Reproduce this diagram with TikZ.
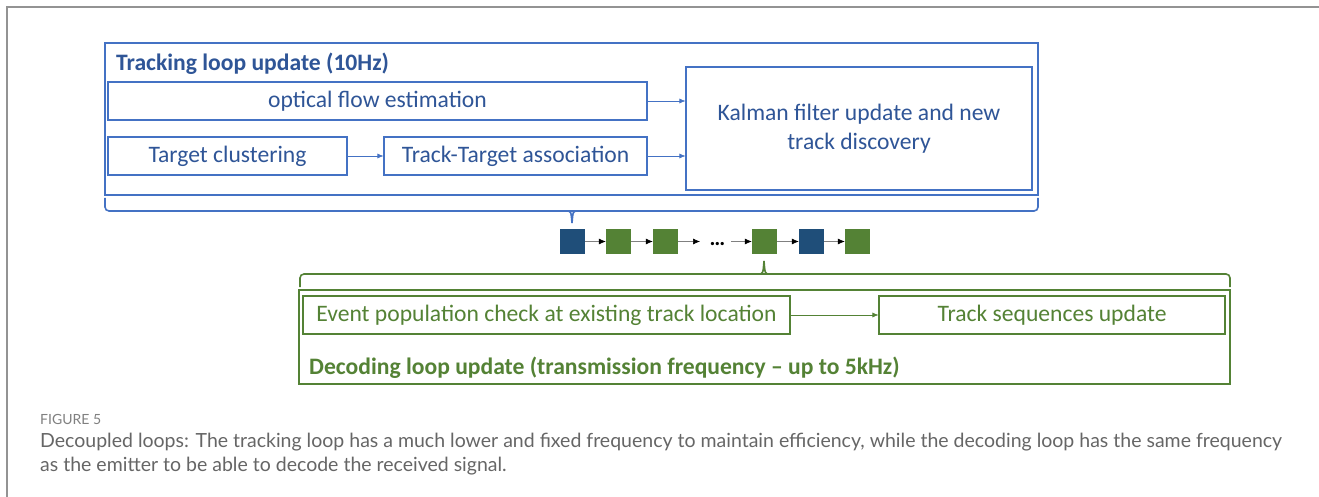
\documentclass[tikz,border=0pt]{standalone}
\usepackage{fontspec}
\setmainfont{Carlito}
\newfontfamily\capfont{Lato}
\usetikzlibrary{arrows.meta,calc}
\definecolor{bline}{HTML}{4472C4}
\definecolor{btext}{HTML}{2F5597}
\definecolor{gline}{HTML}{548235}
\definecolor{gtext}{HTML}{548235}
\definecolor{sqblue}{HTML}{1F4E79}
\definecolor{sqgreen}{HTML}{548235}
\definecolor{capgray}{HTML}{666666}
\begin{document}
\begin{tikzpicture}[x=1pt,y=-1pt,
  bbox/.style={draw=bline,line width=1.1pt,inner sep=0pt,text=btext,font=\fontsize{23.6}{29}\selectfont,align=center},
  gbox/.style={draw=gline,line width=1.1pt,inner sep=0pt,text=gtext,font=\fontsize{23.6}{29}\selectfont,align=center},
  barrow/.style={draw=bline,line width=0.6pt,-{Latex[length=6pt,width=5pt]}},
  garrow/.style={draw=gline,line width=0.6pt,-{Latex[length=6pt,width=5pt]}},
  sq/.style={minimum width=25pt,minimum height=25pt,inner sep=0pt},
  karrow/.style={draw=gray,line width=0.6pt,arrows={-{Latex[length=7pt,width=6pt,color=black]}}},
  title/.style={anchor=west,inner sep=0pt,font=\bfseries\fontsize{23.6}{28}\selectfont}
]
\useasboundingbox (0,0) rectangle (1319,497);
\fill[white] (0,0) rectangle (1319,497);
% frame
\draw[gray!85,line width=1.5pt] (7,497) -- (7,7) -- (1319,7);

% tracking loop
\node[bbox,minimum width=933pt,minimum height=152pt] (outerb) at (571.5,119) {};
\node[title,text=btext] (ttitle) at (116,64) {Tracking loop update (10Hz)};
\node[bbox,minimum width=539pt,minimum height=38pt] (optical) at (377.5,101) {optical flow estimation};
\node[bbox,minimum width=239pt,minimum height=38pt] (cluster) at (227.5,156) {Target clustering};
\node[bbox,minimum width=263pt,minimum height=38pt] (assoc) at (515.5,156) {Track-Target association};
\node[bbox,minimum width=346pt,minimum height=123pt] (kalman) at (859,128.5) {Kalman filter update and new\\track discovery};
\draw[barrow] (optical.east) -- (optical.east -| kalman.west);
\draw[barrow] (assoc.east) -- (assoc.east -| kalman.west);
\draw[barrow] (cluster.east) -- (assoc.west);

% blue brace
\coordinate (bl) at (105,198);
\coordinate (br) at (1038,198);
\coordinate (btip) at (572,223);
\draw[bline,line width=1.6pt,rounded corners=4pt] (bl) -- (105,211) -- (1038,211) -- (br);
\draw[bline,line width=1.6pt] (566,211) .. controls (571,211) .. (btip);
\draw[bline,line width=1.6pt] (578,211) .. controls (573,211) .. (btip);

% sequence
\node[sq,fill=sqblue] (s1) at (572.5,241.5) {};
\node[sq,fill=sqgreen] (s2) at (618.5,241.5) {};
\node[sq,fill=sqgreen] (s3) at (665.5,241.5) {};
\node[inner sep=0pt,font=\bfseries\fontsize{22}{22}\selectfont] (dots) at (717.5,244) {…};
\node[sq,fill=sqgreen] (s4) at (764.5,241.5) {};
\node[sq,fill=sqblue] (s5) at (811.5,241.5) {};
\node[sq,fill=sqgreen] (s6) at (857.5,241.5) {};
\coordinate (d1) at (700,241.5);
\coordinate (d2) at (731,241.5);
\draw[karrow] (s1) -- (s2);
\draw[karrow] (s2) -- (s3);
\draw[karrow] (s3) -- (d1);
\draw[karrow] (d2) -- (s4);
\draw[karrow] (s4) -- (s5);
\draw[karrow] (s5) -- (s6);

% green brace
\coordinate (gl) at (300,287);
\coordinate (gr) at (1230,287);
\coordinate (gtip) at (764,261);
\draw[gline,line width=1.6pt,rounded corners=4pt] (gl) -- (300,274) -- (1230,274) -- (gr);
\draw[gline,line width=1.6pt] (758,274) .. controls (763,274) .. (gtip);
\draw[gline,line width=1.6pt] (770,274) .. controls (765,274) .. (gtip);

% decoding loop
\node[gbox,minimum width=931pt,minimum height=94pt] (outerg) at (764.5,337) {};
\node[gbox,minimum width=487pt,minimum height=38pt] (event) at (546.5,315) {Event population check at existing track location};
\node[gbox,minimum width=346pt,minimum height=38pt] (seq) at (1052,315) {Track sequences update};
\draw[garrow] (event) -- (seq);
\node[title,text=gtext] (gtitle) at (309,368) {Decoding loop update (transmission frequency -- up to 5kHz)};

% caption
\node[anchor=west,inner sep=0pt,text=gray,font=\capfont\fontsize{14}{16}\selectfont] (fig) at (40,419) {FIGURE 5};
\node[anchor=west,inner sep=0pt,text=capgray,font=\capfont\fontsize{19.5}{22}\selectfont] (cap1) at (40,442) {Decoupled loops: The tracking loop has a much lower and fixed frequency to maintain efficiency, while the decoding loop has the same frequency};
\node[anchor=west,inner sep=0pt,text=capgray,font=\capfont\fontsize{19.5}{22}\selectfont] (cap2) at (40,466) {as the emitter to be able to decode the received signal.};
\end{tikzpicture}
\end{document}
